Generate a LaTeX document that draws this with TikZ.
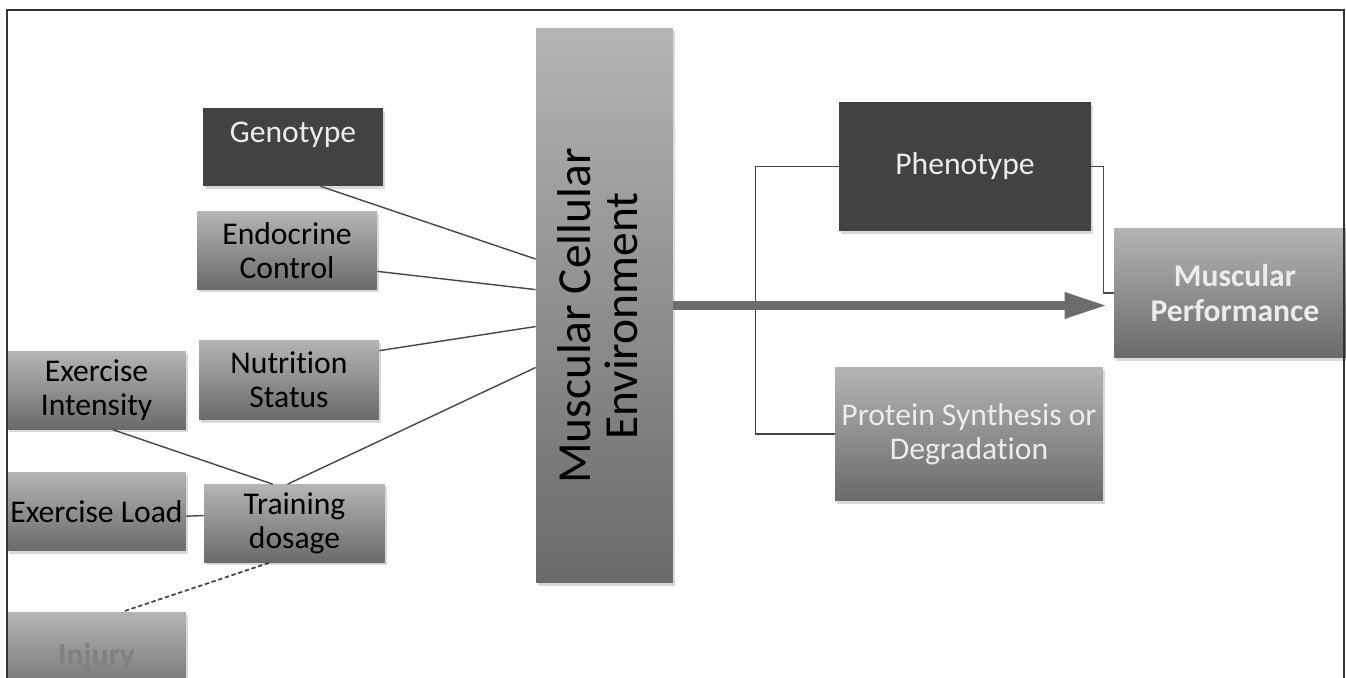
\documentclass[tikz,border=0pt]{standalone}
\usepackage{fontspec}
\setmainfont{Carlito}[Ligatures=NoCommon]
\usetikzlibrary{arrows.meta,shadows}
\definecolor{boxdark}{RGB}{66,66,66}
\definecolor{boxtop}{RGB}{180,180,180}
\definecolor{boxbot}{RGB}{106,106,106}
\definecolor{linkcol}{RGB}{70,70,70}
\definecolor{flowcol}{RGB}{108,108,108}
\definecolor{paletext}{RGB}{236,236,236}
\definecolor{injtext}{RGB}{128,128,128}

\begin{document}
\begin{tikzpicture}[x=0.02cm,y=-0.02cm,
  basebox/.style={minimum width=3.6cm,minimum height=1.56cm,inner sep=1pt,align=center,
    font=\fontsize{18}{19.5}\selectfont,
    drop shadow={opacity=0.3,shadow xshift=1pt,shadow yshift=-1.5pt}},
  darkbox/.style={basebox,fill=boxdark,text=paletext},
  greybox/.style={basebox,top color=boxtop,bottom color=boxbot},
  link/.style={draw=linkcol,line width=0.8pt}]
  \useasboundingbox (0,0) rectangle (1346,678);
  \clip (0,0) rectangle (1346,678);
  % factors on the left
  \node[darkbox,text depth=17pt] (geno) at (293,147) {Genotype};
  \node[greybox] (endo) at (287,250.5) {Endocrine\\Control};
  \node[greybox,minimum height=1.6cm] (nutr) at (289,380) {Nutrition\\Status};
  \node[greybox,minimum width=3.58cm] (exint) at (96.5,390.5) {Exercise\\Intensity};
  \node[greybox,minimum width=3.58cm,minimum height=1.58cm] (exload) at (96.5,511.5) {Exercise Load};
  \node[greybox,minimum width=3.62cm] (train) at (294.5,523.5) {Training\\dosage};
  \node[greybox,minimum width=3.58cm,minimum height=1.8cm,text=injtext,
    font=\bfseries\fontsize{18}{19.5}\selectfont] (injury) at (96.5,657) {Injury};
  % centre column
  \node[greybox,minimum width=2.74cm,minimum height=11.1cm,font=\fontsize{27}{27}\selectfont] (mce) at (604.5,305.5)
    {\rotatebox{90}{\begin{tabular}{@{}c@{}}Muscular Cellular\\Environment\end{tabular}\hspace{12pt}}};
  % outcomes on the right
  \node[darkbox,minimum width=5.04cm,minimum height=2.58cm] (pheno) at (965,166.5) {Phenotype};
  \node[greybox,minimum width=5.36cm,minimum height=2.68cm,text=paletext] (prot) at (969,434)
    {Protein Synthesis or\\Degradation};
  \node[greybox,minimum width=4.84cm,minimum height=2.6cm,text=paletext,
    font=\bfseries\fontsize{18}{20}\selectfont] (perf) at (1235,293) {Muscular\\Performance};
  \draw[link] (geno.-55) -- (mce.146);
  \draw[link] (endo.-13) -- (mce.167);
  \draw[link] (nutr.18) -- (mce.197);
  \draw[link] (train.100) -- (mce.222);
  \draw[link] (exint.-67) -- (train.119);
  \draw[link] (exload.-3) -- (train.175);
  \draw[link,line width=1pt,dash pattern=on 2.5pt off 1.5pt] (train.237) -- (injury.60);
  \draw[link] (pheno.west) -- ++(-83,0) |- (prot.west);
  \draw[link] (pheno.east) -- ++(12,0) |- (perf.west);
  \draw[flowcol,line width=0.18cm,-{Triangle[length=0.86cm,width=0.48cm]},shorten >=0.12cm]
    (mce.east) -- (mce.east -| perf.west);
  % frame
  \draw[black!80,line width=1pt] (7,690) -- (7,10) -- (1344,10) -- (1344,690);
\end{tikzpicture}
\end{document}
